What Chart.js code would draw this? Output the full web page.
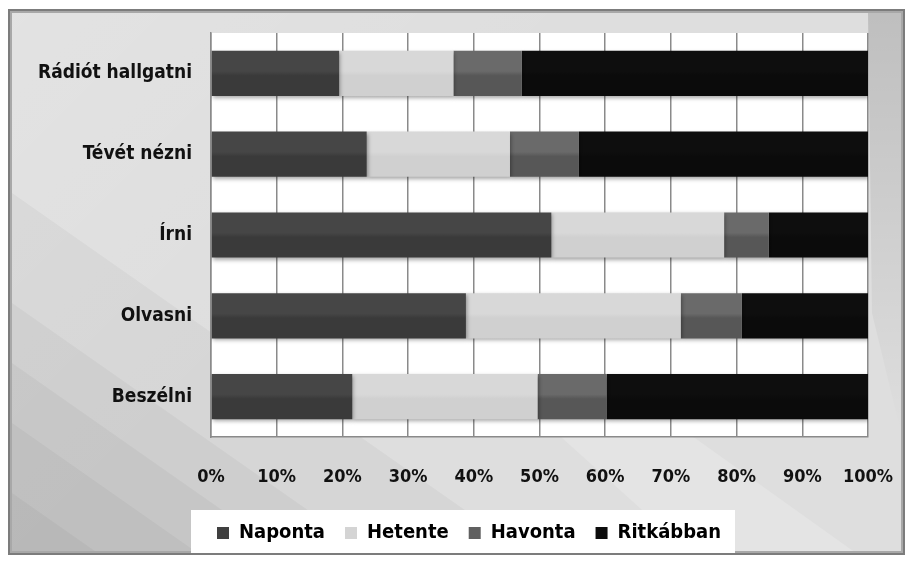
<!DOCTYPE html>
<html>
<head>
<meta charset="utf-8">
<script src="https://cdn.jsdelivr.net/npm/chart.js@4/dist/chart.umd.min.js"></script>
<style>
  html, body { margin: 0; padding: 0; background: #fff; }
  #wrap { width: 913px; height: 563px; position: relative; }
</style>
</head>
<body>
<div id="wrap"><canvas id="myChart"></canvas></div>
<script>
var kategoriak = ['Rádiót hallgatni', 'Tévét nézni', 'Írni', 'Olvasni', 'Beszélni'];
var naponta = [19.5, 23.7, 51.8, 38.8, 21.5];
var hetente = [17.4, 21.8, 26.3, 32.7, 28.2];
var havonta = [10.4, 10.5, 6.8, 9.3, 10.5];
var ritkabban = [52.7, 44.0, 15.1, 19.2, 39.8];
var szazalekTicks = [0, 10, 20, 30, 40, 50, 60, 70, 80, 90, 100];

var betu = "'DejaVu Sans Condensed', 'Liberation Sans Narrow', sans-serif";
var barArany = 0.56;
var legendEltolas = 35;

// bar colour: vertical gradient over the bar height
function savSzin(felso, also, alapszin) {
    return function (context) {
        var chart = context.chart;
        if (!chart.chartArea || context.dataIndex === undefined) return alapszin;
        var y = chart.scales.y;
        var kozep = y.getPixelForValue(context.dataIndex);
        var fel = (chart.chartArea.height / kategoriak.length) * barArany / 2;
        var g = chart.ctx.createLinearGradient(0, kozep - fel, 0, kozep + fel);
        g.addColorStop(0, felso);
        g.addColorStop(0.45, felso);
        g.addColorStop(0.55, also);
        g.addColorStop(1, also);
        return g;
    };
}

var hatterPlugin = {
    id: 'hatter',
    afterLayout: function (chart) {
        // legend sits a bit right of the canvas centre
        if (chart.legend) {
            chart.legend.left += legendEltolas;
            chart.legend.right += legendEltolas;
        }
    },
    beforeDraw: function (chart) {
        var ctx = chart.ctx;
        var w = chart.width, h = chart.height;
        ctx.save();
        ctx.fillStyle = '#ffffff';
        ctx.fillRect(0, 0, w, h);

        // frame
        var fx = 8, fy = 9, fw = w - 16, fh = h - 17;
        ctx.fillStyle = '#7c7c7c';
        ctx.fillRect(fx, fy, fw, fh);
        ctx.fillStyle = '#a8a8a8';
        ctx.fillRect(fx + 2, fy + 2, fw - 4, fh - 4);
        var ix = fx + 4, iy = fy + 4, iw = fw - 8, ih = fh - 8;
        ctx.fillStyle = '#dedede';
        ctx.fillRect(ix, iy, iw, ih);

        ctx.beginPath();
        ctx.rect(ix, iy, iw, ih);
        ctx.clip();
        // lighter glow at top-left
        var g = ctx.createLinearGradient(ix, iy, ix + 300, iy + 300);
        g.addColorStop(0, 'rgba(255,255,255,0.14)');
        g.addColorStop(1, 'rgba(255,255,255,0)');
        ctx.fillStyle = g;
        ctx.fillRect(ix, iy, iw, ih);

        // diagonal bands, darker towards the bottom-left corner
        var savok = [180, 290, 350, 410, 480];
        savok.forEach(function (y0) {
            ctx.fillStyle = 'rgba(0,0,0,0.035)';
            ctx.beginPath();
            ctx.moveTo(ix, iy + y0);
            ctx.lineTo(ix + 1000, iy + y0 + 700);
            ctx.lineTo(ix, iy + y0 + 700);
            ctx.closePath();
            ctx.fill();
        });
        // a lighter band across the lower right
        ctx.fillStyle = 'rgba(255,255,255,0.18)';
        ctx.beginPath();
        ctx.moveTo(ix + 500, iy + 380);
        ctx.lineTo(ix + 900, iy + 380 + 360);
        ctx.lineTo(ix + 900, iy + 380 + 200);
        ctx.lineTo(ix + 620, iy + 380);
        ctx.closePath();
        ctx.fill();

        // darker strip on right side
        var gs = ctx.createLinearGradient(0, iy, 0, iy + 420);
        gs.addColorStop(0, 'rgba(0,0,0,0.14)');
        gs.addColorStop(1, 'rgba(0,0,0,0)');
        ctx.fillStyle = gs;
        ctx.beginPath();
        ctx.moveTo(chart.chartArea.right, iy);
        ctx.lineTo(ix + iw, iy);
        ctx.lineTo(ix + iw, iy + 420);
        ctx.lineTo(chart.chartArea.right + 4, iy + 300);
        ctx.closePath();
        ctx.fill();
        ctx.restore();

        // plot area white
        var ca = chart.chartArea;
        ctx.save();
        ctx.fillStyle = '#ffffff';
        ctx.fillRect(ca.left, ca.top, ca.right - ca.left, ca.bottom - ca.top);

        // legend box
        var lg = chart.legend;
        if (lg && lg.legendHitBoxes && lg.legendHitBoxes.length) {
            var hb = lg.legendHitBoxes;
            var bal = hb[0].left - 26;
            var jobb = hb[hb.length - 1].left + hb[hb.length - 1].width + 14;
            ctx.fillStyle = '#ffffff';
            ctx.fillRect(bal, lg.top + 7, jobb - bal, lg.bottom - lg.top - 7);
        }
        ctx.restore();
    },
    beforeDatasetsDraw: function (chart) {
        var ctx = chart.ctx;
        ctx.save();
        ctx.shadowColor = 'rgba(0,0,0,0.35)';
        ctx.shadowBlur = 4;
        ctx.shadowOffsetY = 2;
        ctx.shadowOffsetX = 1;
    },
    afterDatasetsDraw: function (chart) {
        chart.ctx.restore();
    }
};

var myChart = new Chart(document.getElementById('myChart'), {
    type: 'bar',
    data: {
        labels: kategoriak,
        datasets: [
            { label: 'Naponta', data: naponta, backgroundColor: savSzin('#464646', '#3a3a3a', '#404040') },
            { label: 'Hetente', data: hetente, backgroundColor: savSzin('#d8d8d8', '#d0d0d0', '#d4d4d4') },
            { label: 'Havonta', data: havonta, backgroundColor: savSzin('#6a6a6a', '#575757', '#606060') },
            { label: 'Ritkábban', data: ritkabban, backgroundColor: savSzin('#0e0e0e', '#0b0b0b', '#0c0c0c') }
        ]
    },
    options: {
        indexAxis: 'y',
        responsive: true,
        maintainAspectRatio: false,
        animation: false,
        layout: { padding: { top: 33, right: 45, left: 0, bottom: 10 } },
        datasets: { bar: { categoryPercentage: barArany, barPercentage: 1, borderWidth: 0 } },
        scales: {
            x: {
                stacked: true,
                min: 0, max: 100,
                afterFit: function (scale) { scale.height = 66; },
                afterBuildTicks: function (scale) {
                    scale.ticks = szazalekTicks.map(function (v) { return { value: v }; });
                },
                grid: { color: '#8a8a8a', lineWidth: 1.5, drawTicks: true, tickLength: 27, tickColor: 'rgba(0,0,0,0)' },
                border: { display: true, color: '#8a8a8a', width: 1.5 },
                ticks: {
                    padding: 3,
                    color: '#111',
                    font: { family: betu, size: 18, weight: 'bold' },
                    callback: function (v) { return v + '%'; }
                }
            },
            y: {
                stacked: true,
                afterFit: function (scale) { scale.width = 211; },
                grid: { display: false, drawTicks: false },
                border: { display: true, color: '#8a8a8a', width: 1.5 },
                ticks: {
                    padding: 19,
                    color: '#111',
                    font: { family: betu, size: 19, weight: 'bold' }
                }
            }
        },
        plugins: {
            legend: {
                position: 'bottom',
                labels: {
                    boxWidth: 12,
                    boxHeight: 12,
                    padding: 20,
                    color: '#111',
                    font: { family: betu, size: 20, weight: 'bold' },
                    generateLabels: function (chart) {
                        var szinek = ['#404040', '#d4d4d4', '#606060', '#0c0c0c'];
                        return chart.data.datasets.map(function (ds, i) {
                            return {
                                text: ds.label,
                                fillStyle: szinek[i],
                                strokeStyle: szinek[i],
                                lineWidth: 0,
                                datasetIndex: i,
                                hidden: !chart.isDatasetVisible(i)
                            };
                        });
                    }
                }
            },
            tooltip: { enabled: false }
        }
    },
    plugins: [hatterPlugin]
});
</script>
</body>
</html>
